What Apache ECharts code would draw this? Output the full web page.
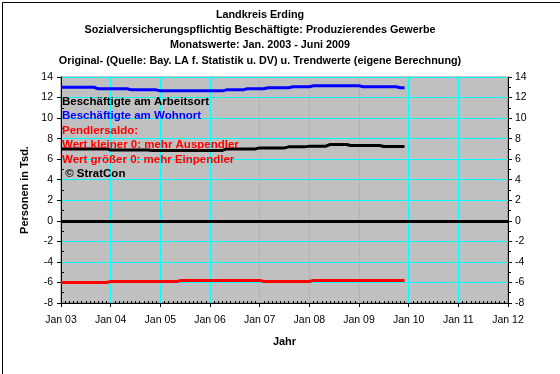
<!DOCTYPE html>
<html><head><meta charset="utf-8">
<script src="https://cdn.jsdelivr.net/npm/echarts@6/dist/echarts.min.js"></script>
<style>html,body{margin:0;padding:0;background:#fff}#c{width:560px;height:374px}</style>
</head><body><div id="c"></div>
<script>
const titleLines = [
  'Landkreis Erding',
  'Sozialversicherungspflichtig Beschäftigte: Produzierendes Gewerbe',
  'Monatswerte: Jan. 2003 - Juni 2009',
  'Original- (Quelle: Bay. LA f. Statistik u. DV) u. Trendwerte (eigene Berechnung)'
];
const noteLines = [
  'Beschäftigte am Arbeitsort',
  'Beschäftigte am Wohnort',
  'Pendlersaldo:',
  'Wert kleiner 0: mehr Auspendler',
  'Wert größer 0: mehr Einpendler',
  ' © StratCon'
];
const xTickLabels = ['Jan 03','Jan 04','Jan 05','Jan 06','Jan 07','Jan 08','Jan 09','Jan 10','Jan 11','Jan 12'];
const yTickLabels = ['-8','-6','-4','-2','0','2','4','6','8','10','12','14'];
const xAxisName = 'Jahr';
const yAxisName = 'Personen in Tsd.';
// monthly values Jan 2003 .. Dec 2009 (thousands)
const wohnort = [
  13.0,13.0,13.0,13.0,13.0,13.0,13.0,13.0,13.0,
  12.85,12.85,12.85,12.85,12.85,12.85,12.85,12.85,
  12.75,12.75,12.75,12.75,12.75,12.75,12.75,
  12.65,12.65,12.65,12.65,12.65,12.65,12.65,12.65,12.65,12.65,12.65,12.65,12.65,12.65,12.65,12.65,
  12.75,12.75,12.75,12.75,12.75,
  12.85,12.85,12.85,12.85,12.85,
  12.95,12.95,12.95,12.95,12.95,12.95,
  13.05,13.05,13.05,13.05,13.05,
  13.15,13.15,13.15,13.15,13.15,13.15,13.15,13.15,13.15,13.15,13.15,13.15,
  13.05,13.05,13.05,13.05,13.05,13.05,13.05,13.05,13.05,
  12.95,12.95
];
const arbeitsort = [
  7.0,7.0,7.0,7.0,7.0,7.0,7.0,7.0,7.0,7.0,7.0,7.0,
  6.9,6.9,6.9,6.9,6.9,6.9,6.9,6.9,6.9,6.9,
  6.85,6.85,6.85,6.85,6.85,6.85,6.85,6.85,6.85,6.85,6.85,6.85,6.85,6.85,6.85,6.85,6.85,6.85,
  7.0,7.0,7.0,7.0,7.0,7.0,7.0,7.0,
  7.1,7.1,7.1,7.1,7.1,7.1,7.1,
  7.2,7.2,7.2,7.2,7.2,
  7.27,7.27,7.27,7.27,7.27,
  7.43,7.43,7.43,7.43,7.43,
  7.33,7.33,7.33,7.33,7.33,7.33,7.33,7.33,
  7.23,7.23,7.23,7.23,7.23,7.23
];
const saldo = [
  -6.0,-6.0,-6.0,-6.0,-6.0,-6.0,-6.0,-6.0,-6.0,-6.0,-6.0,-6.0,
  -5.9,-5.9,-5.9,-5.9,-5.9,-5.9,-5.9,-5.9,-5.9,-5.9,-5.9,-5.9,-5.9,-5.9,-5.9,-5.9,-5.9,
  -5.8,-5.8,-5.8,-5.8,-5.8,-5.8,-5.8,-5.8,-5.8,-5.8,-5.8,-5.8,-5.8,-5.8,-5.8,-5.8,-5.8,-5.8,-5.8,-5.8,
  -5.9,-5.9,-5.9,-5.9,-5.9,-5.9,-5.9,-5.9,-5.9,-5.9,-5.9,-5.9,
  -5.8,-5.8,-5.8,-5.8,-5.8,-5.8,-5.8,-5.8,-5.8,-5.8,-5.8,-5.8,-5.8,-5.8,-5.8,-5.8,-5.8,-5.8,-5.8,-5.8,-5.8,-5.8,-5.8
];

const FONT = '"Liberation Sans", Arial, sans-serif';
const noteColors = ['#000000','#0000FF','#FF0000','#FF0000','#FF0000','#000000'];
const toPts = arr => arr.map((v, i) => [i, v]);
const yFmt = v => yTickLabels[Math.round((v + 8) / 2)] ?? '';
const xFmt = v => xTickLabels[Math.round(v / 12)] ?? '';

const chart = echarts.init(document.getElementById('c'), null, {renderer: 'canvas'});
const yBase = {
  type: 'value', min: -8, max: 14, interval: 2,
  axisLine: {show: true, onZero: false, lineStyle: {color: '#000', width: 1}},
  axisLabel: {color: '#000', fontSize: 10.5, fontFamily: FONT, formatter: yFmt},
};
chart.setOption({
  animation: false,
  backgroundColor: '#fff',
  grid: {left: 61, right: 52, top: 77, bottom: 71, show: true, backgroundColor: '#C0C0C0', borderColor: '#808080', borderWidth: 1},
  xAxis: [{
    type: 'value', min: 0, max: 108, interval: 12, position: 'bottom',
    name: xAxisName, nameLocation: 'middle', nameGap: 33,
    nameTextStyle: {fontSize: 11, fontWeight: 'bold', color: '#000', fontFamily: FONT},
    axisLine: {show: true, onZero: false, lineStyle: {color: '#000'}},
    axisTick: {show: true, length: 4, lineStyle: {color: '#000'}},
    axisLabel: {color: '#000', fontSize: 10.5, fontFamily: FONT, margin: 12, formatter: xFmt},
    splitLine: {show: true, lineStyle: {color: '#00FFFF', width: 1}}
  }, {
    type: 'value', min: 0, max: 108, interval: 12, position: 'bottom',
    axisLine: {show: false, onZero: false}, axisLabel: {show: false}, splitLine: {show: false},
    axisTick: {show: false, inside: true},
    minorTick: {show: true, splitNumber: 12, length: 2, lineStyle: {color: '#000'}}
  }],
  yAxis: [Object.assign({}, yBase, {
    position: 'left',
    name: yAxisName, nameLocation: 'middle', nameGap: 28, nameRotate: 90,
    nameTextStyle: {fontSize: 11, fontWeight: 'bold', color: '#000', fontFamily: FONT},
    axisTick: {show: true, length: 4, lineStyle: {color: '#000'}},
    axisLabel: Object.assign({}, yBase.axisLabel, {margin: 8}),
    splitLine: {show: true, lineStyle: {color: '#00FFFF', width: 1}}
  }), Object.assign({}, yBase, {
    position: 'right',
    axisTick: {show: true, length: 4, lineStyle: {color: '#000'}},
    minorTick: {show: true, splitNumber: 2, length: 3, lineStyle: {color: '#000'}},
    axisLabel: Object.assign({}, yBase.axisLabel, {margin: 7}),
    splitLine: {show: false}
  }), {
    type: 'value', min: -8, max: 14, interval: 2, position: 'left',
    axisLine: {show: false, onZero: false}, axisLabel: {show: false}, splitLine: {show: false},
    axisTick: {show: false, inside: true},
    minorTick: {show: true, splitNumber: 2, length: 3, lineStyle: {color: '#000'}}
  }],
  series: [{
    name: 'Beschäftigte am Arbeitsort', type: 'line', data: toPts(arbeitsort),
    showSymbol: false, lineStyle: {color: '#000', width: 3}, itemStyle: {color: '#000'}, z: 3
  }, {
    name: 'Beschäftigte am Wohnort', type: 'line', data: toPts(wohnort),
    showSymbol: false, lineStyle: {color: '#0000FF', width: 3}, itemStyle: {color: '#0000FF'}, z: 3
  }, {
    name: 'Pendlersaldo', type: 'line', data: toPts(saldo),
    showSymbol: false, lineStyle: {color: '#FF0000', width: 3}, itemStyle: {color: '#FF0000'}, z: 3,
    markLine: {silent: true, symbol: 'none', label: {show: false},
      lineStyle: {color: '#000', width: 3, type: 'solid'}, data: [{yAxis: 0}]}
  }],
  graphic: [{
    type: 'rect', left: 0, top: 0, silent: true, z: 100,
    shape: {x: 0.5, y: 0.5, width: 559, height: 373},
    style: {fill: 'none', stroke: '#000', lineWidth: 1}
  }].concat(titleLines.map((t, i) => ({
    type: 'text', x: 260, y: 15 + 15.2 * i, z: 50, silent: true,
    style: {text: t, fill: '#000', font: 'bold 10.8px ' + FONT, textAlign: 'center', textVerticalAlign: 'middle'}
  }))).concat(noteLines.map((t, i) => ({
    type: 'text', x: 62, y: 101.7 + 14.5 * i, z: 50, silent: true,
    style: {text: t, fill: noteColors[i], font: 'bold 11.5px ' + FONT, textVerticalAlign: 'middle'}
  })))
});
</script></body></html>
